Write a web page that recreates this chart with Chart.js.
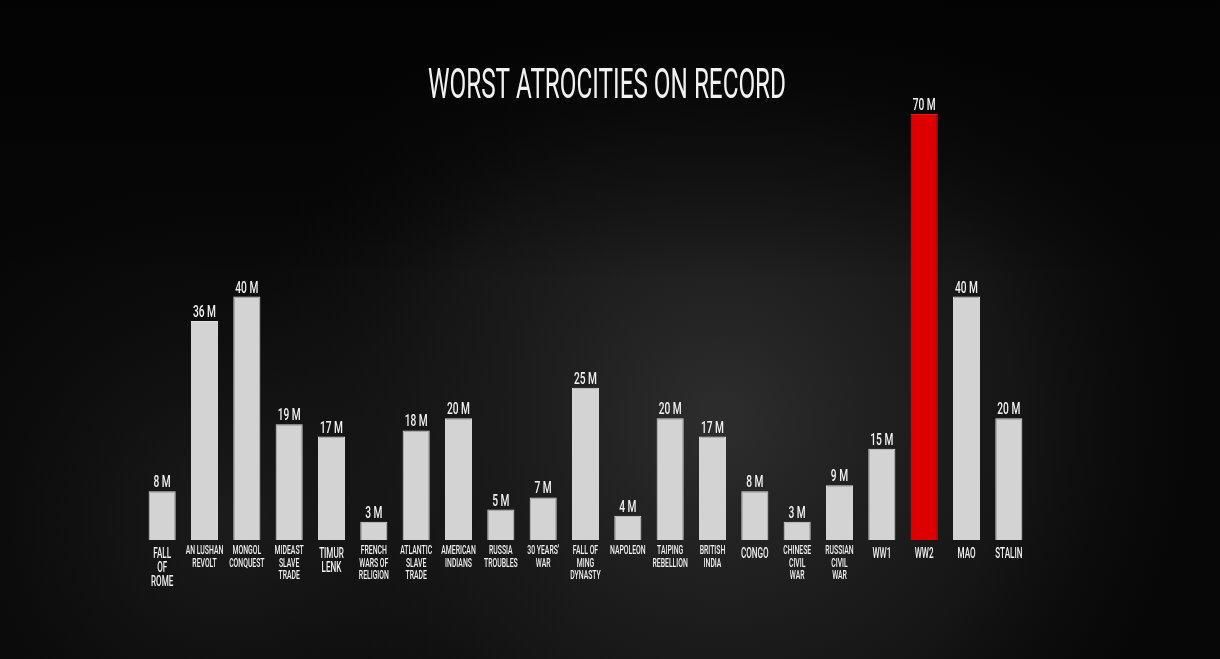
<!DOCTYPE html>
<html>
<head>
<meta charset="utf-8">
<style>
  html, body { margin: 0; padding: 0; background: #0b0b0b; overflow: hidden; }
  #wrap { width: 1220px; height: 659px; position: relative; }
</style>
<script src="https://cdn.jsdelivr.net/npm/chart.js@4.4.1/dist/chart.umd.min.js"></script>
</head>
<body>
<div id="wrap"><canvas id="atrocities"></canvas></div>
<script>
const chartTitle = 'WORST ATROCITIES ON RECORD';
const categories = [
    ['FALL', 'OF', 'ROME'],
    ['AN LUSHAN', 'REVOLT'],
    ['MONGOL', 'CONQUEST'],
    ['MIDEAST', 'SLAVE', 'TRADE'],
    ['TIMUR', 'LENK'],
    ['FRENCH', 'WARS OF', 'RELIGION'],
    ['ATLANTIC', 'SLAVE', 'TRADE'],
    ['AMERICAN', 'INDIANS'],
    ['RUSSIA', 'TROUBLES'],
    ["30 YEARS'", 'WAR'],
    ['FALL OF', 'MING', 'DYNASTY'],
    ['NAPOLEON'],
    ['TAIPING', 'REBELLION'],
    ['BRITISH', 'INDIA'],
    ['CONGO'],
    ['CHINESE', 'CIVIL', 'WAR'],
    ['RUSSIAN', 'CIVIL', 'WAR'],
    ['WW1'],
    ['WW2'],
    ['MAO'],
    ['STALIN']
];
const deaths = [8, 36, 40, 19, 17, 3, 18, 20, 5, 7, 25, 4, 20, 17, 8, 3, 9, 15, 70, 40, 20];
const unit = 'M';
const highlighted = ['WW2'];

const BAR_GREY = '#d3d3d3';
const BAR_RED = '#dc0000';
const TEXT = '#f2f2f2';

// canvas has no condensed font installed, so squeeze text horizontally
function squeezedText(ctx, text, x, y, font, sx) {
    ctx.save();
    ctx.font = font;
    ctx.translate(x, y);
    ctx.scale(sx, 1);
    ctx.fillText(text, 0, 0);
    ctx.restore();
}

const backdrop = {
    id: 'backdrop',
    beforeDraw(chart) {
        const { ctx, width, height } = chart;
        ctx.save();
        ctx.fillStyle = '#070707';
        ctx.fillRect(0, 0, width, height);
        let g = ctx.createRadialGradient(720, 420, 20, 720, 420, 480);
        g.addColorStop(0, 'rgba(46,46,46,0.95)');
        g.addColorStop(0.6, 'rgba(34,34,34,0.55)');
        g.addColorStop(1, 'rgba(20,20,20,0)');
        ctx.fillStyle = g;
        ctx.fillRect(0, 0, width, height);
        g = ctx.createRadialGradient(230, 520, 10, 230, 520, 360);
        g.addColorStop(0, 'rgba(36,36,36,0.7)');
        g.addColorStop(1, 'rgba(20,20,20,0)');
        ctx.fillStyle = g;
        ctx.fillRect(0, 0, width, height);
        g = ctx.createLinearGradient(0, 0, 0, 280);
        g.addColorStop(0, 'rgba(3,3,3,0.95)');
        g.addColorStop(1, 'rgba(3,3,3,0)');
        ctx.fillStyle = g;
        ctx.fillRect(0, 0, width, 280);
        ctx.restore();
    }
};

const annotations = {
    id: 'annotations',
    afterDatasetsDraw(chart) {
        const { ctx, chartArea } = chart;
        const xScale = chart.scales.x;
        const bars = chart.getDatasetMeta(0).data;
        ctx.save();
        ctx.fillStyle = TEXT;
        ctx.textAlign = 'center';
        ctx.textBaseline = 'alphabetic';

        // title
        ctx.font = '400 42px Roboto';
        const tw = ctx.measureText(chartTitle).width;
        squeezedText(ctx, chartTitle, 607, 98, '400 42px Roboto', 358 / tw);

        // value labels above bars
        bars.forEach((bar, i) => {
            squeezedText(ctx, deaths[i] + ' ' + unit, bar.x, bar.y - 4, '500 17px Roboto', 0.6);
        });

        // category labels under bars
        categories.forEach((lines, i) => {
            const x = xScale.getPixelForValue(i);
            const big = Math.max(...lines.map(l => l.length)) <= 6;
            const font = big ? '500 15px Roboto' : '500 12px Roboto';
            const sx = big ? 0.54 : 0.57;
            const lh = big ? 14 : 12.7;
            const y0 = chartArea.bottom + (big ? 18 : 14);
            lines.forEach((line, j) => squeezedText(ctx, line, x, y0 + j * lh, font, sx));
        });
        ctx.restore();
    }
};

new Chart(document.getElementById('atrocities'), {
    type: 'bar',
    plugins: [backdrop, annotations],
    data: {
        labels: categories,
        datasets: [{
            data: deaths,
            backgroundColor: categories.map(c => highlighted.includes(c.join(' ')) ? BAR_RED : BAR_GREY),
            borderColor: categories.map(c => highlighted.includes(c.join(' ')) ? '#e41a1a' : '#dedede'),
            borderWidth: 1,
            barPercentage: 0.64,
            categoryPercentage: 1
        }]
    },
    options: {
        responsive: true,
        maintainAspectRatio: false,
        devicePixelRatio: 1,
        animation: false,
        layout: {
            padding: { left: 141, right: 190, top: 114, bottom: 119 }
        },
        scales: {
            x: { display: false },
            y: { display: false, min: 0, max: 70 }
        },
        plugins: {
            legend: { display: false },
            tooltip: { enabled: false }
        }
    }
});
</script>
</body>
</html>
